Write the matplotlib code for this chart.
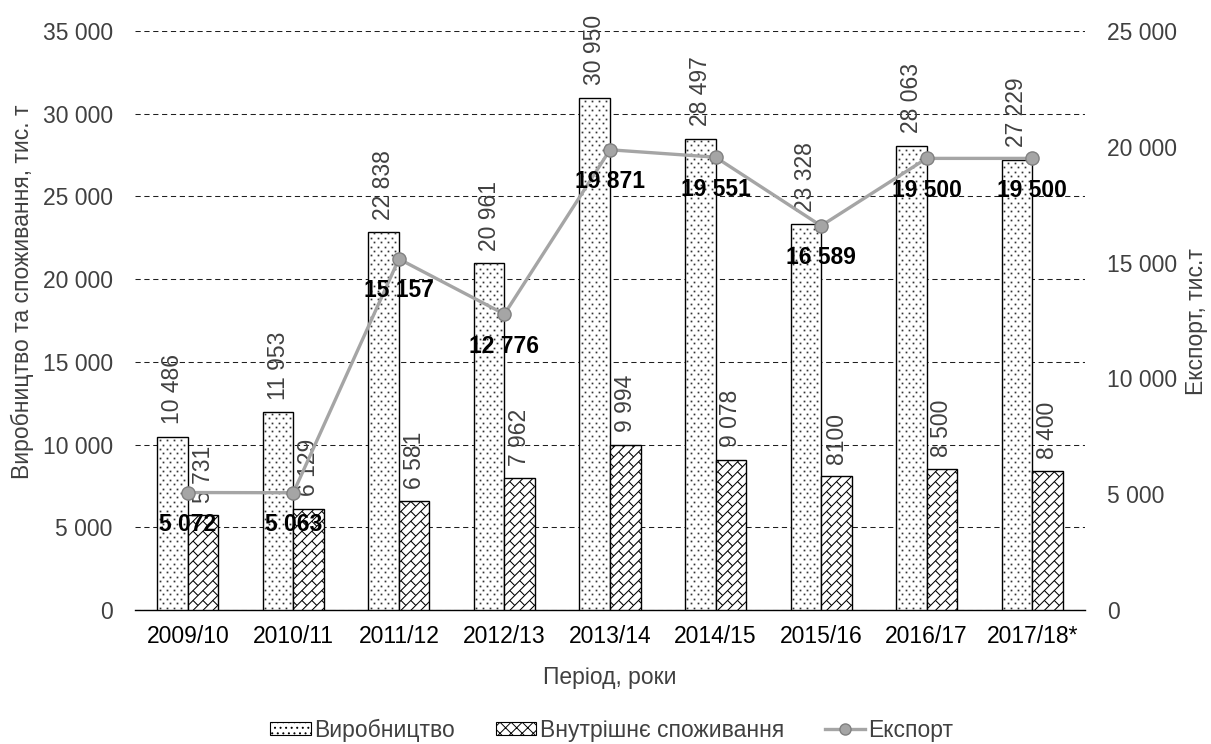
import matplotlib
matplotlib.use("Agg")
import matplotlib.pyplot as plt
import numpy as np
from matplotlib.patches import Patch
from matplotlib.lines import Line2D
from matplotlib.collections import LineCollection

plt.rcParams['font.family'] = ['Liberation Sans', 'DejaVu Sans']
plt.rcParams['hatch.linewidth'] = 0.7

periods = ["2009/10", "2010/11", "2011/12", "2012/13", "2013/14",
           "2014/15", "2015/16", "2016/17", "2017/18*"]
production = [10486, 11953, 22838, 20961, 30950, 28497, 23328, 28063, 27229]
consumption = [5731, 6129, 6581, 7962, 9994, 9078, 8100, 8500, 8400]
consumption_labels = ["5 731", "6 129", "6 581", "7 962", "9 994",
                      "9 078", "8100", "8 500", "8 400"]
export = [5072, 5063, 15157, 12776, 19871, 19551, 16589, 19500, 19500]


def fmt(v, sep=" "):
    return f"{v:,}".replace(",", sep)


text_col = "#404040"
fs = 16.5

fig = plt.figure(figsize=(12.11, 7.44), dpi=100)
ax = fig.add_axes([135 / 1211, 134 / 744, 950 / 1211, 579 / 744])
ax2 = ax.twinx()

x = np.arange(len(periods))
w = 0.29

ax.set_ylim(0, 35000)
ax.set_xlim(-0.5, len(periods) - 0.5)

prod_bars = ax.bar(x - w / 2, production, w, facecolor="white", edgecolor="black",
                   linewidth=1.0, zorder=3)
cons_bars = ax.bar(x + w / 2, consumption, w, facecolor="white", edgecolor="black",
                   linewidth=1.0, zorder=3)

to_px = ax.transData
to_data = ax.transData.inverted()


def rect_px(r):
    (x0, y0), (x1, y1) = to_px.transform([(r.get_x(), r.get_y()),
                                          (r.get_x() + r.get_width(),
                                           r.get_y() + r.get_height())])
    return x0, x1, y0, y1


# dotted texture for production bars
for r in prod_bars:
    x0, x1, y0, y1 = rect_px(r)
    pts = []
    dx, dy = 7.0, 4.4
    for i, yy in enumerate(np.arange(y0 + 2.5, y1 - 1, dy)):
        off = 2.5 + (dx / 2 if i % 2 else 0.0)
        for xx in np.arange(x0 + off, x1 - 1.5, dx):
            pts.append((xx, yy))
    if pts:
        d = to_data.transform(np.array(pts))
        ln, = ax.plot(d[:, 0], d[:, 1], linestyle="none", marker="s",
                      markersize=1.25, markeredgewidth=0, color="#333333", zorder=3.5)
        ln.set_clip_path(r)

# diagonal brick texture for consumption bars
s, L = 7.0, 14.0
e1 = np.array([1.0, 1.0]) / np.sqrt(2)
e2 = np.array([-1.0, 1.0]) / np.sqrt(2)
for r in cons_bars:
    x0, x1, y0, y1 = rect_px(r)
    corners = np.array([(x0, y0), (x0, y1), (x1, y0), (x1, y1)])
    us, vs = corners @ e1, corners @ e2
    segs = []
    kmin, kmax = int(np.floor(vs.min() / s)) - 1, int(np.ceil(vs.max() / s)) + 1
    for k in range(kmin, kmax):
        v = k * s
        a = us.min() * e1 + v * e2
        b = us.max() * e1 + v * e2
        segs.append([a, b])
        shift = (L / 2) if k % 2 else 0.0
        for u in np.arange(np.floor(us.min() / L) * L + shift, us.max() + L, L):
            segs.append([u * e1 + v * e2, u * e1 + (v + s) * e2])
    segs = [to_data.transform(np.array(sg)) for sg in segs]
    lc = LineCollection(segs, colors="black", linewidths=0.75, zorder=3.5)
    ax.add_collection(lc)
    lc.set_clip_path(r)

for xi, v in zip(x, production):
    ax.annotate(fmt(v), (xi - w / 2, v), xytext=(0, 9), textcoords="offset points",
                rotation=90, ha="center", va="bottom", fontsize=fs, color=text_col,
                zorder=5)
for xi, v, lab in zip(x, consumption, consumption_labels):
    ax.annotate(lab, (xi + w / 2, v), xytext=(0, 9), textcoords="offset points",
                rotation=90, ha="center", va="bottom", fontsize=fs, color=text_col,
                zorder=5)

ax.set_yticks(np.arange(0, 35001, 5000))
ax.set_yticklabels([fmt(v) for v in range(0, 35001, 5000)])
ax.set_xticks(x)
ax.set_xticklabels(periods)
ax.yaxis.grid(True, linestyle=(0, (5, 3.5)), color="#202020", linewidth=0.75, zorder=0)
ax.set_axisbelow(True)

ax2.plot(x, export, color="#A5A5A5", linewidth=2.4, marker="o", markersize=9.5,
         markerfacecolor="#A5A5A5", markeredgecolor="#808080", markeredgewidth=1.0,
         zorder=4)
for xi, v in zip(x, export):
    ax2.annotate(fmt(v), (xi, v), xytext=(0, -23), textcoords="offset points",
                 ha="center", va="center", fontsize=fs, fontweight="bold",
                 color="black", zorder=6)
ax2.set_ylim(0, 25000)
ax2.set_yticks(np.arange(0, 25001, 5000))
ax2.set_yticklabels([fmt(v) for v in range(0, 25001, 5000)])

for a in (ax, ax2):
    for sp in ("top", "left", "right"):
        a.spines[sp].set_visible(False)
    a.tick_params(axis="y", length=0, labelsize=fs, labelcolor=text_col, pad=16)
ax2.spines["bottom"].set_visible(False)
ax.spines["bottom"].set_color("black")
ax.spines["bottom"].set_linewidth(1.0)
ax.tick_params(axis="x", length=0, labelsize=fs, labelcolor="black", pad=11)

ax.set_ylabel("Виробництво та споживання, тис. т", fontsize=fs, color=text_col)
ax.yaxis.label.set_verticalalignment("center")
ax.yaxis.set_label_coords((22 - 135) / 950, (610 - 292) / 579)
ax2.set_ylabel("Експорт, тис.т", fontsize=fs, color=text_col, rotation=90)
ax2.yaxis.label.set_verticalalignment("center")
ax2.yaxis.set_label_coords((1196 - 135) / 950, (610 - 322) / 579)
ax.set_xlabel("Період, роки", fontsize=fs, color=text_col, labelpad=13)

handles = [
    Patch(facecolor="white", edgecolor="black", hatch="...", linewidth=0.8),
    Patch(facecolor="white", edgecolor="black", hatch="xxx", linewidth=0.8),
    Line2D([0], [0], color="#A5A5A5", linewidth=2.4, marker="o", markersize=8,
           markerfacecolor="#A5A5A5", markeredgecolor="#808080"),
]
fig.legend(handles, ["Виробництво", "Внутрішнє споживання", "Експорт"],
           loc="center", bbox_to_anchor=(612 / 1211, 1 - 730 / 744), ncol=3,
           frameon=False, fontsize=fs, handlelength=1.75, handleheight=0.45,
           handletextpad=0.15, columnspacing=1.8, labelcolor=text_col)

fig.savefig("out.png", dpi=100)
